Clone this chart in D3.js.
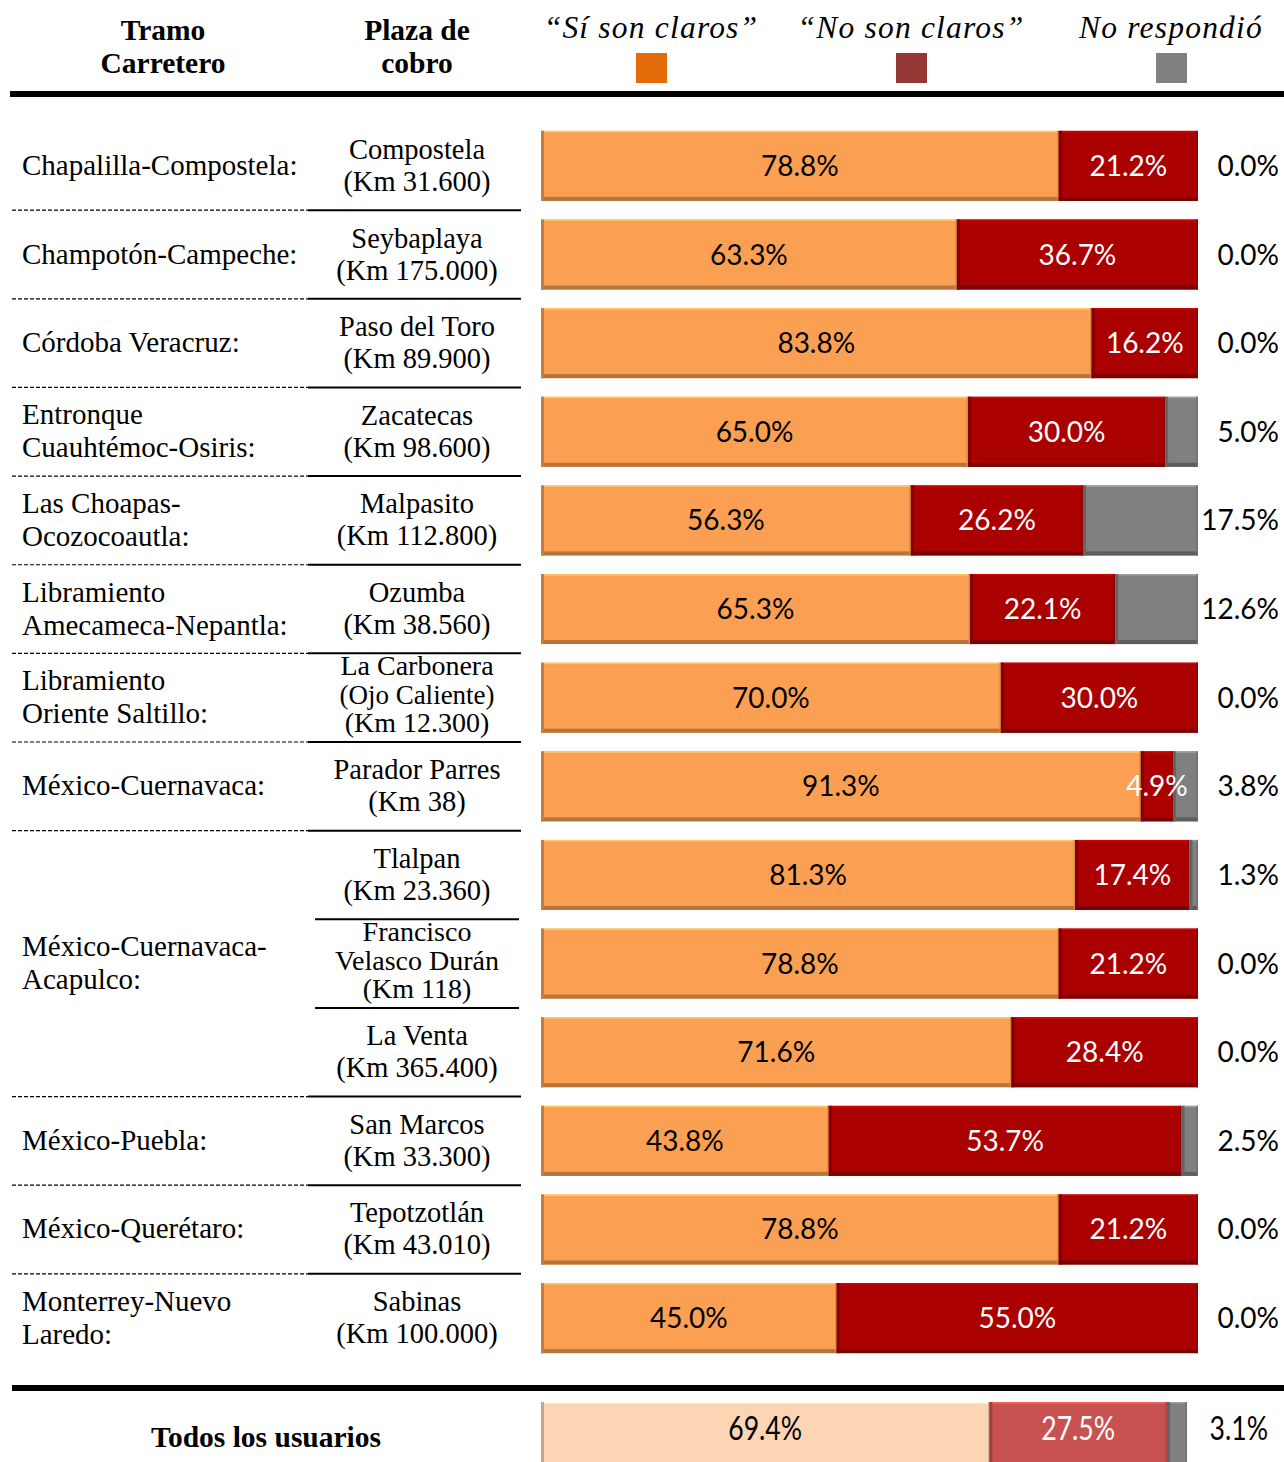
<!DOCTYPE html>
<html>
<head>
<meta charset="utf-8">
<script src="https://cdn.jsdelivr.net/npm/d3@7"></script>
<style>
  body { margin: 0; background: #fff; }
  svg { display: block; }
</style>
</head>
<body>
<script>
const width = 1284
const height = 1462

// one entry per plaza (row of bars)
const plazas = [
  ["Compostela", "(Km 31.600)"],
  ["Seybaplaya", "(Km 175.000)"],
  ["Paso del Toro", "(Km 89.900)"],
  ["Zacatecas", "(Km 98.600)"],
  ["Malpasito", "(Km 112.800)"],
  ["Ozumba", "(Km 38.560)"],
  ["La Carbonera", "(Ojo Caliente)", "(Km 12.300)"],
  ["Parador Parres", "(Km 38)"],
  ["Tlalpan", "(Km 23.360)"],
  ["Francisco", "Velasco Durán", "(Km 118)"],
  ["La Venta", "(Km 365.400)"],
  ["San Marcos", "(Km 33.300)"],
  ["Tepotzotlán", "(Km 43.010)"],
  ["Sabinas", "(Km 100.000)"]
]
const siClaros = [78.8, 63.3, 83.8, 65.0, 56.3, 65.3, 70.0, 91.3, 81.3, 78.8, 71.6, 43.8, 78.8, 45.0]
const noClaros = [21.2, 36.7, 16.2, 30.0, 26.2, 22.1, 30.0, 4.9, 17.4, 21.2, 28.4, 53.7, 21.2, 55.0]
const noResp   = [0.0, 0.0, 0.0, 5.0, 17.5, 12.6, 0.0, 3.8, 1.3, 0.0, 0.0, 2.5, 0.0, 0.0]

// tramos: label lines, first row, number of rows
const tramos = [
  [["Chapalilla-Compostela:"], 0, 1],
  [["Champotón-Campeche:"], 1, 1],
  [["Córdoba Veracruz:"], 2, 1],
  [["Entronque", "Cuauhtémoc-Osiris:"], 3, 1],
  [["Las Choapas-", "Ocozocoautla:"], 4, 1],
  [["Libramiento", "Amecameca-Nepantla:"], 5, 1],
  [["Libramiento", "Oriente Saltillo:"], 6, 1],
  [["México-Cuernavaca:"], 7, 1],
  [["México-Cuernavaca-", "Acapulco:"], 8, 3],
  [["México-Puebla:"], 11, 1],
  [["México-Querétaro:"], 12, 1],
  [["Monterrey-Nuevo", "Laredo:"], 13, 1]
]

const totalLabel = "Todos los usuarios"
const totalValues = [69.4, 27.5, 3.1]

const seriesNames = ["“Sí son claros”", "“No son claros”", "No respondió"]
const legendColors = ["#e46c0a", "#953735", "#808080"]
const barColors = ["#fba052", "#aa0000", "#808080"]
const totalColors = ["#fcd5b4", "#c85250", "#808080"]
const labelColors = ["#000", "#fff"]

const serif = "'Liberation Serif', 'Times New Roman', serif"
const sans = "Lato, 'Open Sans', sans-serif"
const labelSize = "28px"

const svg = d3.select("body").append("svg")
    .attr("width", width)
    .attr("height", height)

const y = d3.scaleBand()
    .domain(d3.range(plazas.length))
    .range([122, 1362])
    .paddingInner(0.21)
    .paddingOuter(0.1)

const x = d3.scaleLinear().domain([0, 100]).range([541, 1198])
const xTotal = d3.scaleLinear().domain([0, 100]).range([541, 1187])

// header
const headers = [[163, ["Tramo", "Carretero"]], [417, ["Plaza de", "cobro"]]]
headers.forEach(([cx, lines]) => {
  svg.append("text")
      .attr("x", cx).attr("y", 40)
      .attr("text-anchor", "middle")
      .style("font-family", serif).style("font-weight", "bold").style("font-size", "29.5px")
    .selectAll("tspan").data(lines).join("tspan")
      .attr("x", cx).attr("dy", (d, i) => i ? 33 : 0)
      .text(d => d)
})

const legendX = [651, 911, 1171]
seriesNames.forEach((name, i) => {
  svg.append("text")
      .attr("x", legendX[i]).attr("y", 38)
      .attr("text-anchor", "middle")
      .style("font-family", serif).style("font-style", "italic")
      .style("font-size", "31.5px").style("letter-spacing", "1.2px")
      .text(name)
  svg.append("rect")
      .attr("x", legendX[i] - 15).attr("y", 53)
      .attr("width", 31).attr("height", 30)
      .attr("fill", legendColors[i])
})

svg.append("rect").attr("x", 10).attr("y", 91).attr("width", 1274).attr("height", 6).attr("fill", "#000")
svg.append("rect").attr("x", 12).attr("y", 1385).attr("width", 1272).attr("height", 6).attr("fill", "#000")

const rowCenter = i => y(i) + y.bandwidth() / 2

// tramo names and row separators
tramos.forEach(([lines, start, n], k) => {
  const cy = rowCenter(start) + (n - 1) * y.step() / 2
  const t = svg.append("text")
      .attr("x", 22)
      .attr("y", cy + 9 - (lines.length - 1) * 16.5)
      .style("font-family", serif).style("font-size", "29px")
  t.selectAll("tspan").data(lines).join("tspan")
      .attr("x", 22).attr("dy", (d, i) => i ? 33 : 0)
      .text(d => d)

  if (k < tramos.length - 1) {
    const by = rowCenter(start + n - 1) + y.step() / 2
    svg.append("line")
        .attr("x1", 12).attr("x2", 308).attr("y1", by).attr("y2", by)
        .attr("stroke", "#000").attr("stroke-width", 1.2).attr("stroke-dasharray", "4,2")
    svg.append("line")
        .attr("x1", 308).attr("x2", 521).attr("y1", by).attr("y2", by)
        .attr("stroke", "#000").attr("stroke-width", 2)
  }
  for (let j = start; j < start + n - 1; j++) {
    const by = rowCenter(j) + y.step() / 2
    svg.append("line")
        .attr("x1", 315).attr("x2", 519).attr("y1", by).attr("y2", by)
        .attr("stroke", "#000").attr("stroke-width", 2)
  }
})

// plaza names
plazas.forEach((lines, i) => {
  const cy = rowCenter(i)
  const three = lines.length === 3
  const lh = three ? 28.5 : 32
  svg.append("text")
      .attr("text-anchor", "middle")
      .attr("y", cy + (three ? 6 : 9) - (lines.length - 1) * lh / 2)
      .style("font-family", serif).style("font-size", three ? "28px" : "28.5px")
    .selectAll("tspan").data(lines).join("tspan")
      .attr("x", 417).attr("dy", (d, j) => j ? lh : 0)
      .style("font-size", (d, j) => three && j === 1 && i === 6 ? "27px" : null)
      .text(d => d)
})

// bevelled bar segment
function bevelRect(g, x0, x1, y0, h, color) {
  const w = Math.max(0, x1 - x0)
  const c = d3.color(color)
  g.append("rect").attr("x", x0).attr("y", y0).attr("width", w).attr("height", h).attr("fill", color)
  g.append("rect").attr("x", x0).attr("y", y0).attr("width", w).attr("height", 1.5)
      .attr("fill", c.brighter(0.6))
  g.append("rect").attr("x", x0).attr("y", y0 + h - 4).attr("width", w).attr("height", 4)
      .attr("fill", c.darker(0.9))
  g.append("rect").attr("x", x0).attr("y", y0).attr("width", Math.min(3, w)).attr("height", h)
      .attr("fill", c.darker(0.7))
  g.append("rect").attr("x", x0 + w - 1.5).attr("y", y0).attr("width", Math.min(1.5, w)).attr("height", h)
      .attr("fill", c.darker(0.4))
}

const bars = svg.append("g")
plazas.forEach((p, i) => {
  const vals = [siClaros[i], noClaros[i], noResp[i]]
  let acc = 0
  vals.forEach((v, s) => {
    if (v > 0) bevelRect(bars, x(acc), x(acc + v), y(i), y.bandwidth(), barColors[s])
    acc += v
  })
  const cy = rowCenter(i) + 10
  svg.append("text").attr("x", x(vals[0] / 2)).attr("y", cy)
      .attr("text-anchor", "middle").attr("fill", labelColors[0])
      .style("font-family", sans).style("font-size", labelSize)
      .text(vals[0].toFixed(1) + "%")
  svg.append("text").attr("x", x(vals[0] + vals[1] / 2)).attr("y", cy)
      .attr("text-anchor", "middle").attr("fill", labelColors[1])
      .style("font-family", sans).style("font-size", labelSize)
      .text(vals[1].toFixed(1) + "%")
  svg.append("text").attr("x", 1279).attr("y", cy)
      .attr("text-anchor", "end").attr("fill", "#000")
      .style("font-family", sans).style("font-size", labelSize)
      .text(vals[2].toFixed(1) + "%")
})

// total row
const ty = 1402
let acc = 0
totalValues.forEach((v, s) => {
  bevelRect(bars, xTotal(acc), xTotal(acc + v), ty, 80, totalColors[s])
  acc += v
})
const tcy = 1440
svg.append("text").attr("x", 266).attr("y", 1447)
    .attr("text-anchor", "middle")
    .style("font-family", serif).style("font-weight", "bold").style("font-size", "29.5px")
    .text(totalLabel)
const condensed = (sel, cx) => sel
    .attr("transform", `translate(${cx},${tcy}) scale(0.95,1.2)`)
    .style("font-family", sans).style("font-size", "28px")
condensed(svg.append("text").attr("text-anchor", "middle").attr("fill", "#000"),
    xTotal(totalValues[0] / 2)).text(totalValues[0].toFixed(1) + "%")
condensed(svg.append("text").attr("text-anchor", "middle").attr("fill", "#fff"),
    xTotal(totalValues[0] + totalValues[1] / 2)).text(totalValues[1].toFixed(1) + "%")
condensed(svg.append("text").attr("text-anchor", "end").attr("fill", "#000"),
    1268).text(totalValues[2].toFixed(1) + "%")
</script>
</body>
</html>
